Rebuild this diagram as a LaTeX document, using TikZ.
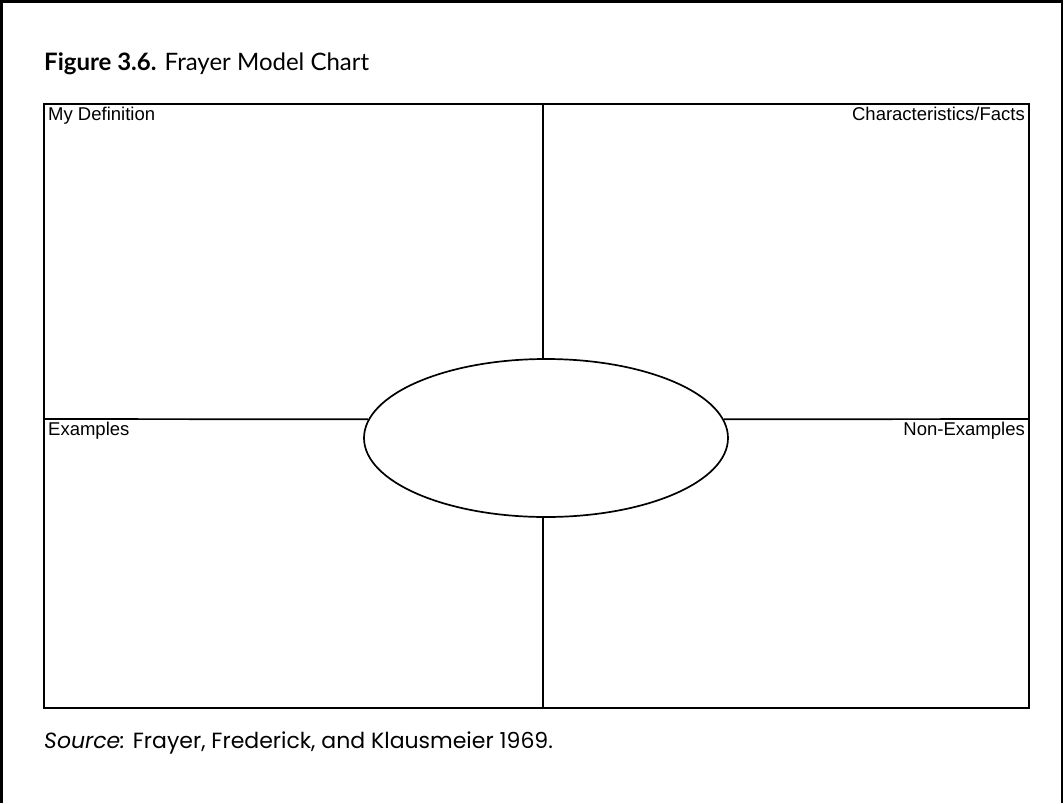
\documentclass[tikz,border=0pt]{standalone}
\usepackage{fontspec}
\setmainfont{Lato}
\newfontfamily\cellfont{Liberation Sans}
\newfontfamily\notefont{Poppins}
\usetikzlibrary{shapes.geometric, positioning}

\begin{document}
\begin{tikzpicture}[
        x=1pt, y=-1pt,
        frame/.style={line width=2.4pt},
        grid/.style={line width=1.7pt},
        cell/.style={font=\cellfont\fontsize{18.5}{20}\selectfont, inner sep=0pt},
        term/.style={ellipse, draw, line width=1.7pt, minimum width=364pt, minimum height=158pt, inner sep=0pt}
    ]
    \useasboundingbox (0,0) rectangle (1064,803);

    % Outer frame (open at the bottom)
    \draw[frame] (1.5,803) -- (1.5,1.5) -- (1062,1.5) -- (1062,803);

    % Title
    \node[anchor=base west, inner sep=0pt, font=\fontsize{24}{28}\selectfont] (title) at (44,70) {\textbf{Figure 3.6.} Frayer Model Chart};

    % Chart corners and side midpoints
    \coordinate (tl) at (44,104);
    \coordinate (br) at (1029,708);
    \coordinate (topmid) at (543,104);
    \coordinate (botmid) at (543,708);
    \coordinate (leftmid) at (44,419);
    \coordinate (rightmid) at (1029,419);

    % Centre oval
    \node[term] (concept) at (546,438) {};

    % Chart box and dividers
    \draw[grid] (tl) rectangle (br);
    \draw[grid] (topmid) -- (topmid |- concept.north);
    \draw[grid] (botmid) -- (botmid |- concept.south);
    \draw[grid] (leftmid) -- (concept.174);
    \draw[grid] (rightmid) -- (concept.6);

    % Quadrant labels
    \node[cell, anchor=north west] (defn) at (48,107) {My Definition};
    \node[cell, anchor=north east] (facts) at (1025,107) {Characteristics/Facts};
    \node[cell, anchor=north west] (examples) at (48,422) {Examples};
    \node[cell, anchor=north east] (nonex) at (1025,422) {Non-Examples};

    % Source line
    \node[anchor=base west, inner sep=0pt, font=\notefont\fontsize{22}{26}\selectfont] (source) at (44,748) {\textit{Source:} Frayer, Frederick, and Klausmeier 1969.};

\end{tikzpicture}
\end{document}
